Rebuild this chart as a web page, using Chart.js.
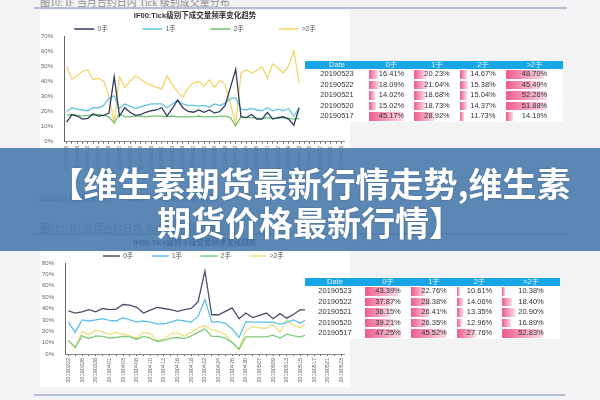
<!DOCTYPE html>
<html>
<head>
<meta charset="utf-8">
<script src="https://cdn.jsdelivr.net/npm/chart.js@4.4.1/dist/chart.umd.min.js"></script>
<style>
body{margin:0;width:600px;height:400px;overflow:hidden;background:#f3f3f5;position:relative;font-family:"Liberation Sans","Noto Sans CJK SC",sans-serif}
.cap{position:absolute;left:40px;font-family:"Liberation Serif","Noto Sans CJK SC",serif;font-size:10px;color:#8c8c8c;white-space:nowrap}
.rule{position:absolute;left:34px;width:533px;height:2px;background:#b3bfd5}
.panel{position:absolute;left:40px;width:310px;background:#fff}
table{position:absolute;border-collapse:collapse;background:#fff;font-size:7.5px;color:#333;table-layout:fixed}
th{background:#18a6e6;color:#e6f5fc;font-weight:normal;padding:0;line-height:8px}
td{height:10.5px;padding:0;text-align:center;position:relative;line-height:10px}
td .bar{position:absolute;left:0;top:1px;bottom:1px;background:linear-gradient(to right,#ee5c8c,#fbdbe6)}
td span{position:relative}
#banner{position:absolute;left:0;top:148px;width:600px;height:103px;box-sizing:border-box;padding:15px 0 0 20px;background:rgba(68,119,171,0.88);color:#fff;font-family:"Noto Sans CJK SC",sans-serif;font-weight:bold;font-size:34px;line-height:39px;text-align:center;text-shadow:0 0 2px rgba(0,0,0,0.25)}
</style>
</head>
<body>

<div class="cap" style="top:-6px">图10: IF 当月合约日内 Tick 级别成交量分布</div>
<div class="rule" style="top:7px"></div>
<div class="panel" style="top:10px;height:178px"><canvas id="ifChart" width="310" height="178"></canvas></div>
<table id="ifTable" style="left:305px;top:61px;width:258px"></table>

<div class="cap" style="top:190px;left:39px;font-size:9.5px">zhuzhu 数据来源：&nbsp;Wind，&nbsp;中信期货研究部</div>
<div class="cap" style="top:220px">图11：IH 当月合约日内 Tick 级别成交量分布</div>
<div class="rule" style="top:233px"></div>
<div class="panel" style="top:237px;height:150px"><canvas id="ihChart" width="310" height="150"></canvas></div>
<table id="ihTable" style="left:305px;top:278px;width:255px"></table>

<div class="rule" style="top:394px;width:531px"></div>
<div class="cap" style="top:398px;font-size:9.5px">数据来源：Wind，中信期货研究部</div>

<div id="banner">【维生素期货最新行情走势,维生素<br>期货价格最新行情】</div>

<script>
var seriesNames = ['0手', '1手', '2手', '>2手'];

// IF00 trading days
var ifDays = ['20190306','20190307','20190308','20190311','20190312','20190313','20190314','20190315',
	'20190318','20190319','20190320','20190321','20190322','20190325','20190326','20190327','20190328','20190329',
	'20190401','20190402','20190403','20190404','20190408','20190409','20190410','20190411','20190412',
	'20190415','20190416','20190417','20190418','20190419','20190422','20190423','20190424','20190425','20190426',
	'20190429','20190430','20190506','20190507','20190508','20190509','20190510','20190513','20190514','20190515',
	'20190516','20190517','20190520','20190521','20190522','20190523'];
var if0 = [13, 18, 17, 15, 15.5, 18.5, 17, 17.5, 19, 43, 17, 22.5, 19.5, 17.5, 18, 19.5, 20.5, 21, 22.5, 17, 22, 27.5, 22.5,
	20, 19.5, 21, 19.5, 21, 19, 20, 24, 36, 48, 16.5, 16, 18, 15, 15, 19.5, 15, 16, 16.5, 15, 11, 22.5];
var if1 = [20, 22.5, 21.5, 21, 20.5, 22.5, 22.5, 24, 28.5, 30.5, 22, 25, 23.5, 22, 23, 24, 25, 25, 25, 22.5, 25, 27.5, 25,
	24, 24, 23.5, 24, 23, 25, 24, 25.5, 28.5, 29, 21.5, 21, 22, 21, 20.5, 22.5, 20.5, 21.5, 20.5, 22, 17, 22.5];
var if2 = [17.5, 18, 17.5, 17, 17.5, 17.5, 18, 17.5, 16.5, 12.5, 18.5, 16.5, 16.5, 17, 17, 16.5, 17, 17, 17, 16.5, 17, 16.5, 16.5,
	16.5, 16.5, 17, 16.5, 16.5, 16.5, 17, 17, 16, 10.5, 16.5, 16, 16, 15.5, 15.5, 16, 15.5, 15.5, 16, 15.5, 15, 15.5];
var if3 = [49.7, 41.5, 43.5, 46.5, 47.5, 41, 42, 40, 30, 12.5, 43, 36, 40, 43.5, 41.5, 39, 37.5, 36, 35, 43.5, 38, 33, 29.5,
	36, 39, 40, 36.5, 41, 36, 40.5, 38, 25, 12, 45.5, 47.5, 45.5, 47, 49.7, 42, 51.5, 48.8, 45.5, 50, 60.3, 38.8];

// IH00 trading days
var ihDays = ['20190322','20190325','20190326','20190327','20190328','20190329',
	'20190401','20190402','20190403','20190404','20190408','20190409','20190410','20190411','20190412',
	'20190415','20190416','20190417','20190418','20190419','20190422','20190423','20190424','20190425','20190426',
	'20190429','20190430','20190506','20190507','20190508','20190509','20190510','20190513','20190514','20190515',
	'20190516','20190517','20190520','20190521','20190522','20190523'];
var ih0 = [38, 36, 37, 39, 37, 40, 39, 39.5, 43.5, 43, 41, 36, 38.5, 41, 40, 39, 37.5, 39, 40, 46, 73, 34.5, 34.5, 37.5,
	40.5, 31, 36, 32, 34, 36, 31, 35.5, 31.5, 35, 39, 38.5];
var ih1 = [28, 19, 30, 29, 30, 31, 29.5, 29, 32, 30, 28, 29, 28, 26.5, 26.5, 28, 30, 29, 28, 33, 48, 28, 28.5, 27,
	22, 14.5, 28.5, 28, 28, 28, 28, 26, 28, 30, 27, 31];
var ih2 = [12, 6, 16, 13.5, 16, 15.5, 14, 14.5, 15.5, 15, 13, 15.5, 14, 11, 12, 14, 14.5, 13.5, 16, 19, 22, 15.5, 15.5, 14,
	10, 4.5, 15, 15, 15, 15, 16.5, 14, 17.5, 16, 15, 17];
var ih3 = [12, 5, 19.5, 17, 21, 19.5, 17, 19, 17.5, 16, 14, 19, 18, 12, 13, 18, 18.5, 15.5, 19, 23, 25, 21.5, 20, 17,
	10, 3.5, 21, 24, 23, 22.5, 26, 19, 30, 25, 23, 28];

// tables
var tableDates = ['20190523', '20190522', '20190521', '20190520', '20190517'];
var ifT0 = [16.41, 18.09, 14.02, 15.02, 45.17];
var ifT1 = [20.23, 21.04, 18.68, 18.73, 28.92];
var ifT2 = [14.67, 15.38, 15.04, 14.37, 11.73];
var ifT3 = [48.70, 45.49, 52.26, 51.88, 14.19];
var ihT0 = [43.39, 37.87, 36.15, 39.21, 47.25];
var ihT1 = [22.76, 28.38, 26.41, 26.35, 45.52];
var ihT2 = [10.61, 14.06, 13.35, 12.96, 27.76];
var ihT3 = [10.38, 18.40, 20.90, 16.89, 52.83];

function fillTable(id, widths, cols) {
	var t = document.getElementById(id);
	var html = '<colgroup>';
	for (var w in widths) html += '<col style="width:' + widths[w] + 'px">';
	html += '</colgroup><tr><th>Date</th>';
	for (var s in seriesNames) html += '<th>' + seriesNames[s] + '</th>';
	html += '</tr>';
	for (var r in tableDates) {
		html += '<tr><td>' + tableDates[r] + '</td>';
		for (var c in cols) {
			var v = cols[c][r];
			var bw = Math.max(3, (v - 7) * 0.9);
			html += '<td><div class="bar" style="width:' + bw.toFixed(1) + 'px"></div><span>' + v.toFixed(2) + '%</span></td>';
		}
		html += '</tr>';
	}
	t.innerHTML = html;
}
fillTable('ifTable', [64, 45, 46, 46, 57], [ifT0, ifT1, ifT2, ifT3]);
fillTable('ihTable', [60, 46, 46, 45, 58], [ihT0, ihT1, ihT2, ihT3]);

function makeChart(id, title, days, data, colors, yMax, yWidth, xHeight, legendBox, legendSpaces, lastSpaces) {
	var datasets = [];
	for (var i in data) {
		datasets.push({
			label: seriesNames[i],
			data: data[i],
			borderColor: colors[i],
			backgroundColor: colors[i],
			borderWidth: 1.3,
			pointRadius: 0,
			tension: 0,
			fill: false
		});
	}
	return new Chart(document.getElementById(id), {
		type: 'line',
		data: { labels: days, datasets: datasets },
		options: {
			responsive: false,
			animation: false,
			devicePixelRatio: 1,
			layout: { padding: 0 },
			plugins: {
				title: {
					display: true,
					text: title,
					color: '#333',
					font: { size: 7.5, weight: 'bold', family: 'Liberation Sans, Noto Sans CJK SC', lineHeight: 1.2 },
					padding: { top: 1.5, bottom: 1.25 }
				},
				legend: {
					maxHeight: 14.25,
					labels: {
						color: '#555',
						font: { size: 6.5, family: 'Liberation Sans, Noto Sans CJK SC' },
						padding: 4,
						usePointStyle: true,
						pointStyle: 'line',
						pointStyleWidth: legendBox,
						boxWidth: legendBox,
						generateLabels: function(chart) {
							var items = Chart.defaults.plugins.legend.labels.generateLabels(chart);
							items.forEach(function(it, k) {
								it.text = it.text + ' '.repeat(k === items.length - 1 ? lastSpaces : legendSpaces);
								it.lineWidth = 1.6;
							});
							return items;
						}
					}
				},
				tooltip: { enabled: false }
			},
			scales: {
				x: {
					offset: true,
					afterFit: function(s) { s.height = xHeight; },
					border: { color: '#8a8a8a', width: 1 },
					grid: { display: true, drawOnChartArea: false, drawTicks: true, tickLength: 2, color: '#666', offset: false },
					ticks: {
						autoSkip: false,
						maxRotation: 90,
						minRotation: 90,
						padding: 2,
						color: '#666',
						font: { size: 5.5, family: 'Liberation Sans' },
						callback: function(v, i) { return i % 2 === 0 ? this.getLabelForValue(v) : ''; }
					}
				},
				y: {
					min: 0,
					max: yMax,
					afterFit: function(s) { s.width = yWidth; },
					border: { color: '#666', width: 1 },
					grid: { display: false },
					ticks: {
						stepSize: 10,
						padding: 3,
						color: '#666',
						font: { size: 6, family: 'Liberation Sans' },
						callback: function(v) { return v + '%'; }
					}
				}
			}
		}
	});
}

makeChart('ifChart', 'IF00:Tick级别下成交量频率变化趋势', ifDays, [if0, if1, if2, if3],
	['#2e3b5e', '#62c3e3', '#6fc36e', '#f4d46a'], 70, 24, 46.3, 20, 17, 0);
makeChart('ihChart', 'IH00:Tick级别下成交量频率变化趋势', ihDays, [ih0, ih1, ih2, ih3],
	['#4a4f66', '#5dc0e8', '#7ccc7e', '#f2dc7f'], 80, 25, 33, 17, 8, 2);
</script>
</body>
</html>
